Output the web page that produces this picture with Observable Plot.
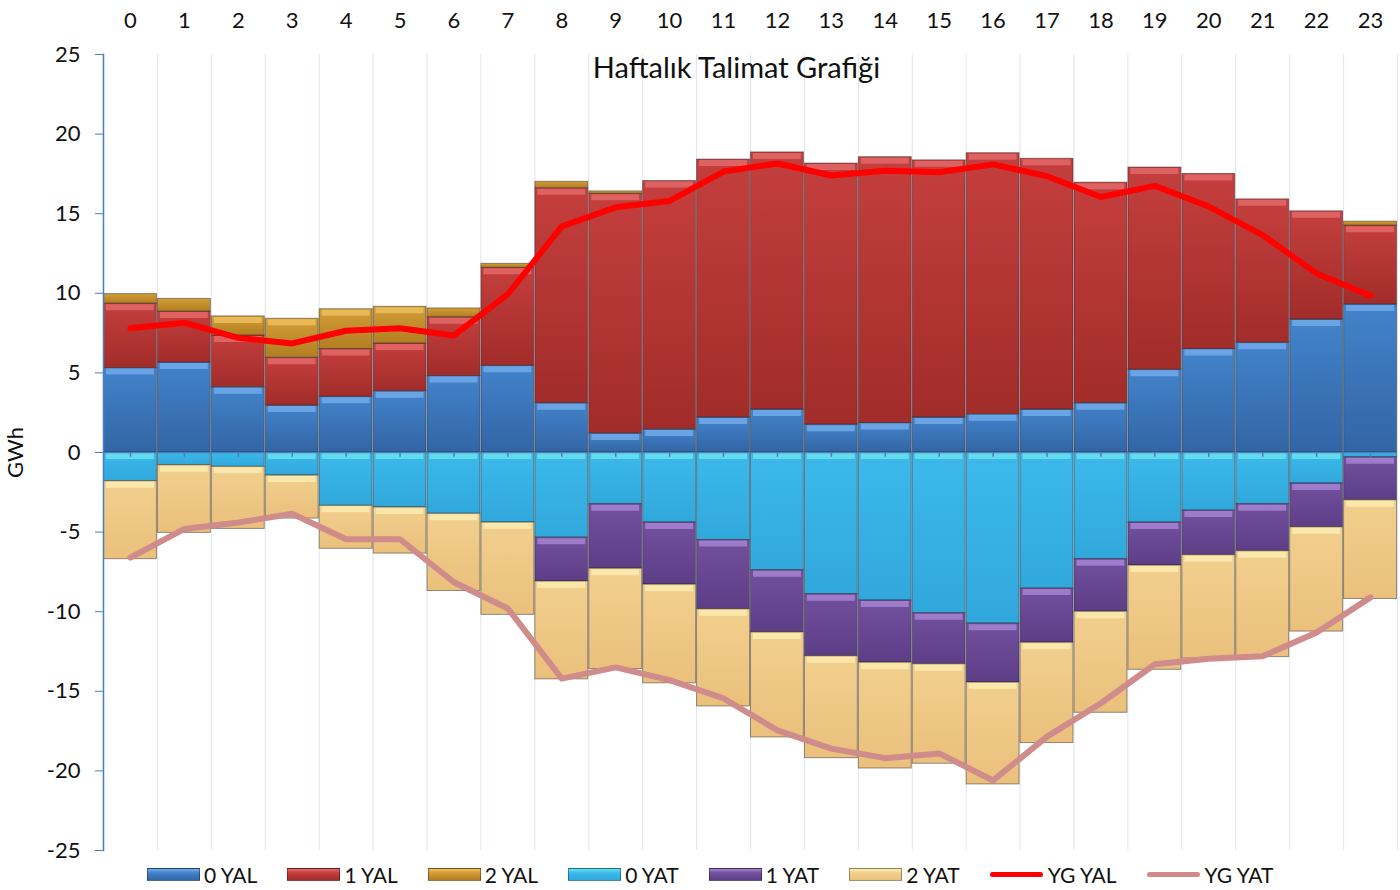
<!DOCTYPE html>
<html><head><meta charset="utf-8">
<script src="https://cdn.jsdelivr.net/npm/d3@7"></script>
<script src="https://cdn.jsdelivr.net/npm/@observablehq/plot@0.6"></script>
<style>
body{margin:0;background:#fff;font-family:Lato,"Open Sans",sans-serif;}
#legend{display:flex;align-items:center;gap:30px;padding-left:147px;height:32px;font-size:21px;color:#111;}
.item{display:flex;align-items:center;}
.sw{width:53px;height:13px;margin-right:4px;box-sizing:border-box;border:1px solid rgba(0,0,0,0.35);}
.ln{width:53px;height:5px;margin-right:5px;border-radius:3px;}
</style></head><body>
<div id="chart"></div><div id="legend"></div>
<script>
const hours = [0,1,2,3,4,5,6,7,8,9,10,11,12,13,14,15,16,17,18,19,20,21,22,23];
const seriesNames = ["0 YAL","1 YAL","2 YAL","0 YAT","1 YAT","2 YAT"];
const yal0 = [5.3,5.65,4.1,2.95,3.5,3.85,4.8,5.45,3.1,1.2,1.45,2.2,2.7,1.75,1.85,2.2,2.4,2.7,3.1,5.2,6.5,6.9,8.35,9.3];
const yal1 = [4.05,3.2,3.25,3.0,3.0,3.0,3.7,6.15,13.5,15.05,15.6,16.2,16.15,16.4,16.7,16.15,16.4,15.75,13.85,12.7,11.0,9.0,6.8,4.95];
const yal2 = [0.6,0.8,1.2,2.45,2.5,2.3,0.55,0.25,0.4,0.15,0,0,0,0,0,0,0,0,0,0,0,0,0,0.25];
const yat0 = [-1.8,-0.8,-0.9,-1.45,-3.35,-3.45,-3.85,-4.4,-5.35,-3.25,-4.4,-5.5,-7.4,-8.9,-9.3,-10.1,-10.75,-8.55,-6.7,-4.4,-3.65,-3.25,-1.95,-0.3];
const yat1 = [0,0,0,0,0,0,0,0,-2.75,-4.05,-3.9,-4.35,-3.9,-3.9,-3.9,-3.2,-3.7,-3.4,-3.3,-2.7,-2.8,-2.95,-2.75,-2.7];
const yat2 = [-4.9,-4.25,-3.9,-2.7,-2.7,-2.9,-4.85,-5.8,-6.15,-6.3,-6.2,-6.1,-6.6,-6.4,-6.65,-6.25,-6.4,-6.3,-6.35,-6.55,-6.5,-6.65,-6.55,-6.2];
const ygYal = [7.8,8.15,7.2,6.85,7.65,7.8,7.35,9.95,14.2,15.4,15.8,17.65,18.15,17.4,17.7,17.6,18.1,17.35,16.05,16.75,15.45,13.65,11.25,9.85];
const ygYat = [-6.6,-4.8,-4.4,-3.85,-5.45,-5.45,-8.15,-9.8,-14.2,-13.5,-14.3,-15.45,-17.45,-18.6,-19.2,-18.9,-20.6,-17.85,-15.75,-13.3,-12.95,-12.8,-11.3,-9.1];
const yTicks = [-25,-20,-15,-10,-5,0,5,10,15,20,25];
const title = "Haftalık Talimat Grafiği";

// colours: [top, bottom, highlight]
const grads = [
  ["#4383CA","#3265A5","#72AAEA"],
  ["#C43F3D","#A12C2A","#E4686A"],
  ["#D39D38","#B17E22","#EDBE5C"],
  ["#3CB9EA","#31A8DC","#6BE2EE"],
  ["#72509E","#5C3E86","#A684D2"],
  ["#F2CF8E","#EAC07C","#FCEBB0"]
];
const gradIds = grads.map((g,i)=>"url(#bg"+i+")");

const allSeries = [yal0,yal1,yal2,yat0,yat1,yat2];
const table = [];
allSeries.forEach((arr,si)=>arr.forEach((v,hi)=>{ if (v !== 0) table.push({h: hours[hi], series: seriesNames[si], si, value: v}); }));
const pos = table.filter(d=>d.value>0);
const neg = table.filter(d=>d.value<0);
const lineYal = hours.map((h,i)=>({h, v: ygYal[i]}));
const lineYat = hours.map((h,i)=>({h, v: ygYat[i]}));
const bounds = hours.map(h=>h+0.5);

const x1 = d=>d.h-0.5, x2 = d=>d.h+0.5;
const hl = d=>grads[d.si][2];
const hlOp = d=>Math.abs(d.value) > 0.9 ? 0.85 : 0;

const chart = Plot.plot({
  width: 1400, height: 858,
  marginTop: 54, marginBottom: 8, marginLeft: 103, marginRight: 3,
  x: {type: "linear", domain: [-0.5, 23.5]},
  y: {domain: [-25, 25]},
  color: {domain: seriesNames, range: gradIds},
  style: {fontFamily: "Lato, 'Open Sans', sans-serif", fontSize: "22px", color: "#111", background: "#fff", overflow: "visible"},
  marks: [
    Plot.ruleX(bounds, {stroke: "#DCE5F1", strokeWidth: 1}),
    Plot.rectY(table, {x1, x2, y: "value", fill: "series", stroke: "#1a1a1a", strokeOpacity: 0.45, strokeWidth: 1, insetLeft: 0.5, insetRight: 0.5}),
    Plot.ruleY(pos, Plot.stackY2({x1, x2, y: "value", z: "series", stroke: hl, strokeOpacity: hlOp, strokeWidth: 6, dy: 3.5, insetLeft: 3, insetRight: 3})),
    Plot.ruleY(neg, Plot.stackY1({x1, x2, y: "value", z: "series", stroke: hl, strokeOpacity: hlOp, strokeWidth: 6, dy: 3.5, insetLeft: 3, insetRight: 3})),
    Plot.ruleY([0], {stroke: "#4A7EBB", strokeWidth: 1.5}),
    Plot.ruleX(hours, {x: d=>d, y1: 0, y2: -0.3, stroke: "#4A7EBB", strokeWidth: 1.5}),
    Plot.frame({anchor: "left", stroke: "#4A7EBB", strokeWidth: 1.5}),
    Plot.line(lineYal, {x: "h", y: "v", stroke: "#FF0000", strokeWidth: 6, strokeLinejoin: "round"}),
    Plot.line(lineYat, {x: "h", y: "v", stroke: "#D08B8B", strokeWidth: 6, strokeLinejoin: "round"}),
    Plot.axisX({anchor: "top", ticks: hours, tickSize: 0, tickPadding: 27, label: null, tickFormat: d=>String(d)}),
    Plot.axisY({ticks: yTicks, tickSize: 8, tickPadding: 15, stroke: "#4A7EBB", tickFormat: d=>String(d), label: "GWh", labelAnchor: "center", labelArrow: "none", labelOffset: 96}),
    Plot.text([title], {frameAnchor: "top", dy: 14, dx: -14, fontSize: 29, lineAnchor: "middle", fill: "#111"})
  ]
});

const defs = d3.select(chart).insert("defs", ":first-child");
grads.forEach((g,i)=>{
  const lg = defs.append("linearGradient").attr("id","bg"+i).attr("x1",0).attr("y1",0).attr("x2",0).attr("y2",1);
  lg.append("stop").attr("offset","0%").attr("stop-color",g[0]);
  lg.append("stop").attr("offset","100%").attr("stop-color",g[1]);
});
document.getElementById("chart").appendChild(chart);

const legend = document.getElementById("legend");
seriesNames.forEach((s,i)=>{
  const it = document.createElement("div"); it.className="item";
  const sw = document.createElement("div"); sw.className="sw";
  sw.style.background = `linear-gradient(to bottom, ${grads[i][2]} 0%, ${grads[i][0]} 35%, ${grads[i][1]} 100%)`;
  const tx = document.createElement("span"); tx.textContent = s;
  it.appendChild(sw); it.appendChild(tx); legend.appendChild(it);
});
[["YG YAL","#FF0000"],["YG YAT","#D08B8B"]].forEach(([s,c])=>{
  const it = document.createElement("div"); it.className="item";
  const sw = document.createElement("div"); sw.className="ln"; sw.style.background=c;
  const tx = document.createElement("span"); tx.textContent = s;
  it.appendChild(sw); it.appendChild(tx); legend.appendChild(it);
});
</script>
</body></html>
